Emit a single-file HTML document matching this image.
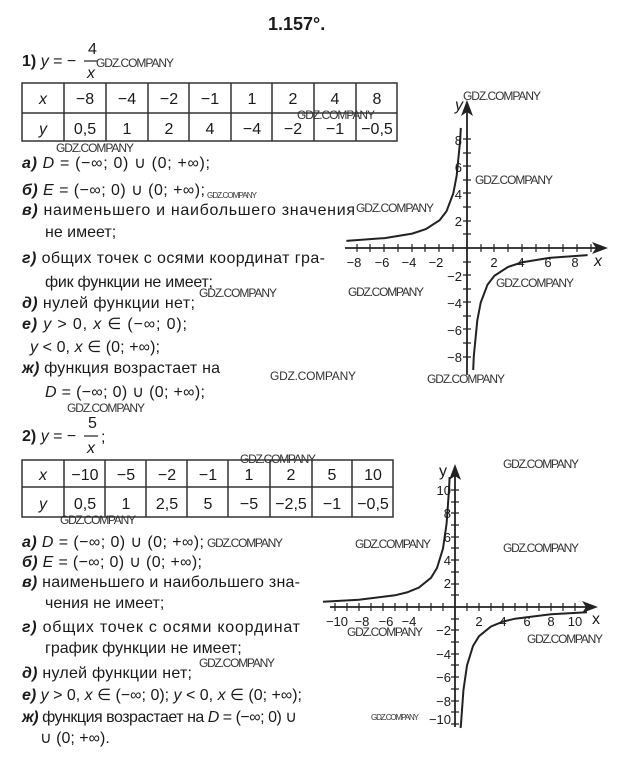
<!DOCTYPE html>
<html><head><meta charset="utf-8"><style>
html,body{margin:0;padding:0;background:#fff;}
svg{display:block}
text{font-family:"Liberation Sans",sans-serif;fill:#1a1a1a;}
.t{font-size:16px;}
.w{font-size:12px;fill:#333;}
.ws{font-size:8px;fill:#333;}
.b{font-weight:bold;font-style:italic;}
.i{font-style:italic;}
.n{font-size:13px;}
</style></head><body>
<svg width="640" height="758" viewBox="0 0 640 758" xmlns="http://www.w3.org/2000/svg">
<text x="268" y="30" style="font-size:18px;font-weight:bold">1.157°.</text>

<!-- Part 1 -->
<text x="22" y="66" class="t"><tspan style="font-weight:bold">1)</tspan>  <tspan class="i">y</tspan> = −</text>
<text x="88" y="54" class="t">4</text>
<line x1="84" y1="61" x2="98" y2="61" stroke="#222" stroke-width="1.2"/>
<text x="87" y="78" class="t i">x</text>
<text x="96" y="67" class="w" textLength="78">GDZ.COMPANY</text>

<g stroke="#333" stroke-width="1.5" fill="none">
<rect x="22" y="83" width="375" height="58"/>
<line x1="22" y1="113" x2="397" y2="113"/>
<line x1="64" y1="83" x2="64" y2="141"/><line x1="106" y1="83" x2="106" y2="141"/>
<line x1="148" y1="83" x2="148" y2="141"/><line x1="189" y1="83" x2="189" y2="141"/>
<line x1="231" y1="83" x2="231" y2="141"/><line x1="272" y1="83" x2="272" y2="141"/>
<line x1="314" y1="83" x2="314" y2="141"/><line x1="356" y1="83" x2="356" y2="141"/>
</g>
<g class="t" text-anchor="middle">
<text x="43" y="104" class="i">x</text><text x="85" y="104">−8</text><text x="127" y="104">−4</text><text x="169" y="104">−2</text><text x="210" y="104">−1</text><text x="252" y="104">1</text><text x="293" y="104">2</text><text x="335" y="104">4</text><text x="377" y="104">8</text>
<text x="43" y="134" class="i">y</text><text x="85" y="134">0,5</text><text x="127" y="134">1</text><text x="169" y="134">2</text><text x="210" y="134">4</text><text x="252" y="134">−4</text><text x="293" y="134">−2</text><text x="335" y="134">−1</text><text x="377" y="134">−0,5</text>
</g>
<text x="297" y="119" class="w" textLength="78">GDZ.COMPANY</text>
<text x="56" y="152" class="w" textLength="78">GDZ.COMPANY</text>

<text x="22" y="168" class="t" textLength="188"><tspan class="b">а)</tspan>  <tspan class="i">D</tspan> = (−∞; 0) ∪ (0; +∞);</text>
<text x="22" y="195" class="t" textLength="183"><tspan class="b">б)</tspan>  <tspan class="i">E</tspan> = (−∞; 0) ∪ (0; +∞);</text>
<text x="207" y="198" class="ws" textLength="50">GDZ.COMPANY</text>
<text x="22" y="215" class="t" textLength="333"><tspan class="b">в)</tspan> наименьшего и наибольшего значения</text>
<text x="356" y="212" class="w" textLength="78">GDZ.COMPANY</text>
<text x="45" y="237" class="t">не имеет;</text>
<text x="22" y="263" class="t" textLength="303"><tspan class="b">г)</tspan> общих точек с осями координат гра-</text>
<text x="45" y="287" class="t" textLength="168">фик функции не имеет;</text>
<text x="199" y="297" class="w" textLength="78">GDZ.COMPANY</text>
<text x="22" y="308" class="t" textLength="173"><tspan class="b">д)</tspan> нулей функции нет;</text>
<text x="22" y="329" class="t" textLength="165"><tspan class="b">е)</tspan>  <tspan class="i">y</tspan> &gt; 0,   <tspan class="i">x</tspan> ∈ (−∞; 0);</text>
<text x="30" y="352" class="t" textLength="130"><tspan class="i">y</tspan> &lt; 0,   <tspan class="i">x</tspan> ∈ (0; +∞);</text>
<text x="22" y="373" class="t" textLength="198"><tspan class="b">ж)</tspan> функция возрастает на</text>
<text x="45" y="397" class="t" textLength="160"><tspan class="i">D</tspan> = (−∞; 0) ∪ (0; +∞);</text>
<text x="67" y="412" class="w" textLength="78">GDZ.COMPANY</text>
<text x="270" y="380" class="w" textLength="86">GDZ.COMPANY</text>

<!-- Graph 1 -->
<g stroke="#222" stroke-width="1.8" fill="none">
<line x1="345" y1="248" x2="600" y2="248"/>
<line x1="467" y1="375" x2="467" y2="112"/>
<polyline points="346.4,240.9 384.8,238.1 412.2,233.6 425.9,229.1 439.6,220.2 446.5,211.3 453.3,193.4 456.7,175.5 460.2,139.8 460.8,127.9" stroke-width="2"/>
<polyline points="587.6,255.1 549.2,257.9 521.8,262.4 508.1,266.9 494.4,275.8 487.5,284.7 480.7,302.6 477.3,320.5 473.8,356.2 473.2,370" stroke-width="2"/>
</g>
<polygon points="608,248 592,242 596,248 592,254" fill="#222"/>
<polygon points="467,100 461,116 467,112 473,116" fill="#222"/>
<g stroke="#222" stroke-width="1.2">
<path d="M357 244v8M370 244v8M384 244v8M398 244v8M412 244v8M425 244v8M439 244v8M453 244v8M481 244v8M494 244v8M508 244v8M522 244v8M536 244v8M549 244v8M563 244v8M577 244v8M591 244v8"/>
<path d="M463 139h8M463 153h8M463 166h8M463 180h8M463 193h8M463 207h8M463 221h8M463 234h8M463 262h8M463 275h8M463 289h8M463 302h8M463 316h8M463 329h8M463 343h8M463 357h8"/>
</g>
<g class="n" text-anchor="middle">
<text x="354" y="267">−8</text><text x="382" y="267">−6</text><text x="409" y="267">−4</text><text x="436" y="267">−2</text><text x="494" y="267">2</text><text x="521" y="267">4</text><text x="548" y="267">6</text><text x="575" y="267">8</text>
</g>
<g class="n" text-anchor="end">
<text x="462" y="145">8</text><text x="462" y="172">6</text><text x="462" y="199">4</text><text x="462" y="226">2</text><text x="462" y="281">−2</text><text x="462" y="308">−4</text><text x="462" y="335">−6</text><text x="462" y="362">−8</text>
</g>
<text x="455" y="110" class="t i">y</text>
<text x="594" y="266" class="t i">x</text>
<text x="463" y="100" class="w" textLength="78">GDZ.COMPANY</text>
<text x="475" y="184" class="w" textLength="78">GDZ.COMPANY</text>
<text x="496" y="287" class="w" textLength="78">GDZ.COMPANY</text>
<text x="348" y="296" class="w" textLength="76">GDZ.COMPANY</text>
<text x="427" y="383" class="w" textLength="78">GDZ.COMPANY</text>

<!-- Part 2 -->
<text x="22" y="441" class="t"><tspan style="font-weight:bold">2)</tspan>  <tspan class="i">y</tspan> = −</text>
<text x="88" y="428" class="t">5</text>
<line x1="84" y1="436" x2="98" y2="436" stroke="#222" stroke-width="1.2"/>
<text x="87" y="453" class="t i">x</text>
<text x="101" y="442" class="t">;</text>
<g stroke="#333" stroke-width="1.5" fill="none">
<rect x="22" y="460" width="371" height="57"/>
<line x1="22" y1="487" x2="393" y2="487"/>
<line x1="64" y1="460" x2="64" y2="517"/><line x1="105" y1="460" x2="105" y2="517"/>
<line x1="146" y1="460" x2="146" y2="517"/><line x1="187" y1="460" x2="187" y2="517"/>
<line x1="228" y1="460" x2="228" y2="517"/><line x1="270" y1="460" x2="270" y2="517"/>
<line x1="312" y1="460" x2="312" y2="517"/><line x1="352" y1="460" x2="352" y2="517"/>
</g>
<g class="t" text-anchor="middle">
<text x="43" y="480" class="i">x</text><text x="85" y="480">−10</text><text x="126" y="480">−5</text><text x="167" y="480">−2</text><text x="208" y="480">−1</text><text x="249" y="480">1</text><text x="291" y="480">2</text><text x="332" y="480">5</text><text x="373" y="480">10</text>
<text x="43" y="509" class="i">y</text><text x="85" y="509">0,5</text><text x="126" y="509">1</text><text x="167" y="509">2,5</text><text x="208" y="509">5</text><text x="249" y="509">−5</text><text x="291" y="509">−2,5</text><text x="332" y="509">−1</text><text x="373" y="509">−0,5</text>
</g>
<text x="240" y="463" class="w" textLength="76">GDZ.COMPANY</text>
<text x="60" y="524" class="w" textLength="76">GDZ.COMPANY</text>

<text x="22" y="547" class="t" textLength="182"><tspan class="b">а)</tspan>  <tspan class="i">D</tspan> = (−∞; 0) ∪ (0; +∞);</text>
<text x="207" y="547" class="w" textLength="76">GDZ.COMPANY</text>
<text x="22" y="567" class="t" textLength="180"><tspan class="b">б)</tspan>  <tspan class="i">E</tspan> = (−∞; 0) ∪ (0; +∞);</text>
<text x="22" y="587" class="t" textLength="278"><tspan class="b">в)</tspan> наименьшего и наибольшего зна-</text>
<text x="45" y="608" class="t">чения не имеет;</text>
<text x="22" y="632" class="t" textLength="278"><tspan class="b">г)</tspan> общих точек с осями координат</text>
<text x="45" y="653" class="t">график функции не имеет;</text>
<text x="199" y="667" class="w" textLength="76">GDZ.COMPANY</text>
<text x="22" y="678" class="t" textLength="170"><tspan class="b">д)</tspan> нулей функции нет;</text>
<text x="22" y="700" class="t" textLength="280"><tspan class="b">е)</tspan>  <tspan class="i">y</tspan> &gt; 0, <tspan class="i">x</tspan> ∈ (−∞; 0); <tspan class="i">y</tspan> &lt; 0, <tspan class="i">x</tspan> ∈ (0; +∞);</text>
<text x="22" y="722" class="t" textLength="275"><tspan class="b">ж)</tspan> функция возрастает на <tspan class="i">D</tspan> = (−∞; 0) ∪</text>
<text x="40" y="743" class="t">∪ (0; +∞).</text>

<!-- Graph 2 -->
<g stroke="#222" stroke-width="1.8" fill="none">
<line x1="330" y1="607" x2="590" y2="607"/>
<line x1="455" y1="727" x2="455" y2="472"/>
<polyline points="323,601.7 359,599.7 395,595.3 407,592.4 419,587.5 431,577.8 437,568 443,548.5 446.6,523.5 449,490 449.6,477" stroke-width="2"/>
<polyline points="587,612.3 551,614.3 515,618.7 503,621.6 491,626.5 479,636.2 473,646 467,665.5 463.4,690.5 461,724 460.6,728" stroke-width="2"/>
</g>
<polygon points="598,607 582,601 586,607 582,613" fill="#222"/>
<polygon points="455,464 449,480 455,476 461,480" fill="#222"/>
<g stroke="#222" stroke-width="1.2">
<path d="M335 603v8M347 603v8M359 603v8M371 603v8M383 603v8M395 603v8M407 603v8M419 603v8M431 603v8M443 603v8M467 603v8M479 603v8M491 603v8M503 603v8M515 603v8M527 603v8M539 603v8M551 603v8M563 603v8M575 603v8"/>
<path d="M451 490h8M451 502h8M451 513h8M451 525h8M451 537h8M451 548h8M451 560h8M451 572h8M451 584h8M451 595h8M451 619h8M451 630h8M451 642h8M451 654h8M451 665h8M451 677h8M451 689h8M451 701h8M451 712h8M451 724h8"/>
</g>
<g class="n" text-anchor="middle">
<text x="337" y="626">−10</text><text x="362" y="626">−8</text><text x="386" y="626">−6</text><text x="409" y="626">−4</text><text x="479" y="626">2</text><text x="503" y="626">4</text><text x="527" y="626">6</text><text x="551" y="626">8</text><text x="575" y="626">10</text>
</g>
<g class="n" text-anchor="end">
<text x="451" y="495">10</text><text x="451" y="518">8</text><text x="451" y="542">6</text><text x="451" y="565">4</text><text x="451" y="588">2</text><text x="451" y="635">−2</text><text x="451" y="659">−4</text><text x="451" y="682">−6</text><text x="451" y="706">−8</text><text x="451" y="724">−10</text>
</g>
<text x="439" y="476" class="t">y</text>
<text x="592" y="624" class="t">x</text>
<text x="503" y="468" class="w" textLength="76">GDZ.COMPANY</text>
<text x="503" y="552" class="w" textLength="76">GDZ.COMPANY</text>
<text x="355" y="548" class="w" textLength="76">GDZ.COMPANY</text>
<text x="347" y="636" class="w" textLength="76">GDZ.COMPANY</text>
<text x="527" y="643" class="w" textLength="76">GDZ.COMPANY</text>
<text x="371" y="720" class="ws" textLength="48">GDZ.COMPANY</text>
</svg>
</body></html>
